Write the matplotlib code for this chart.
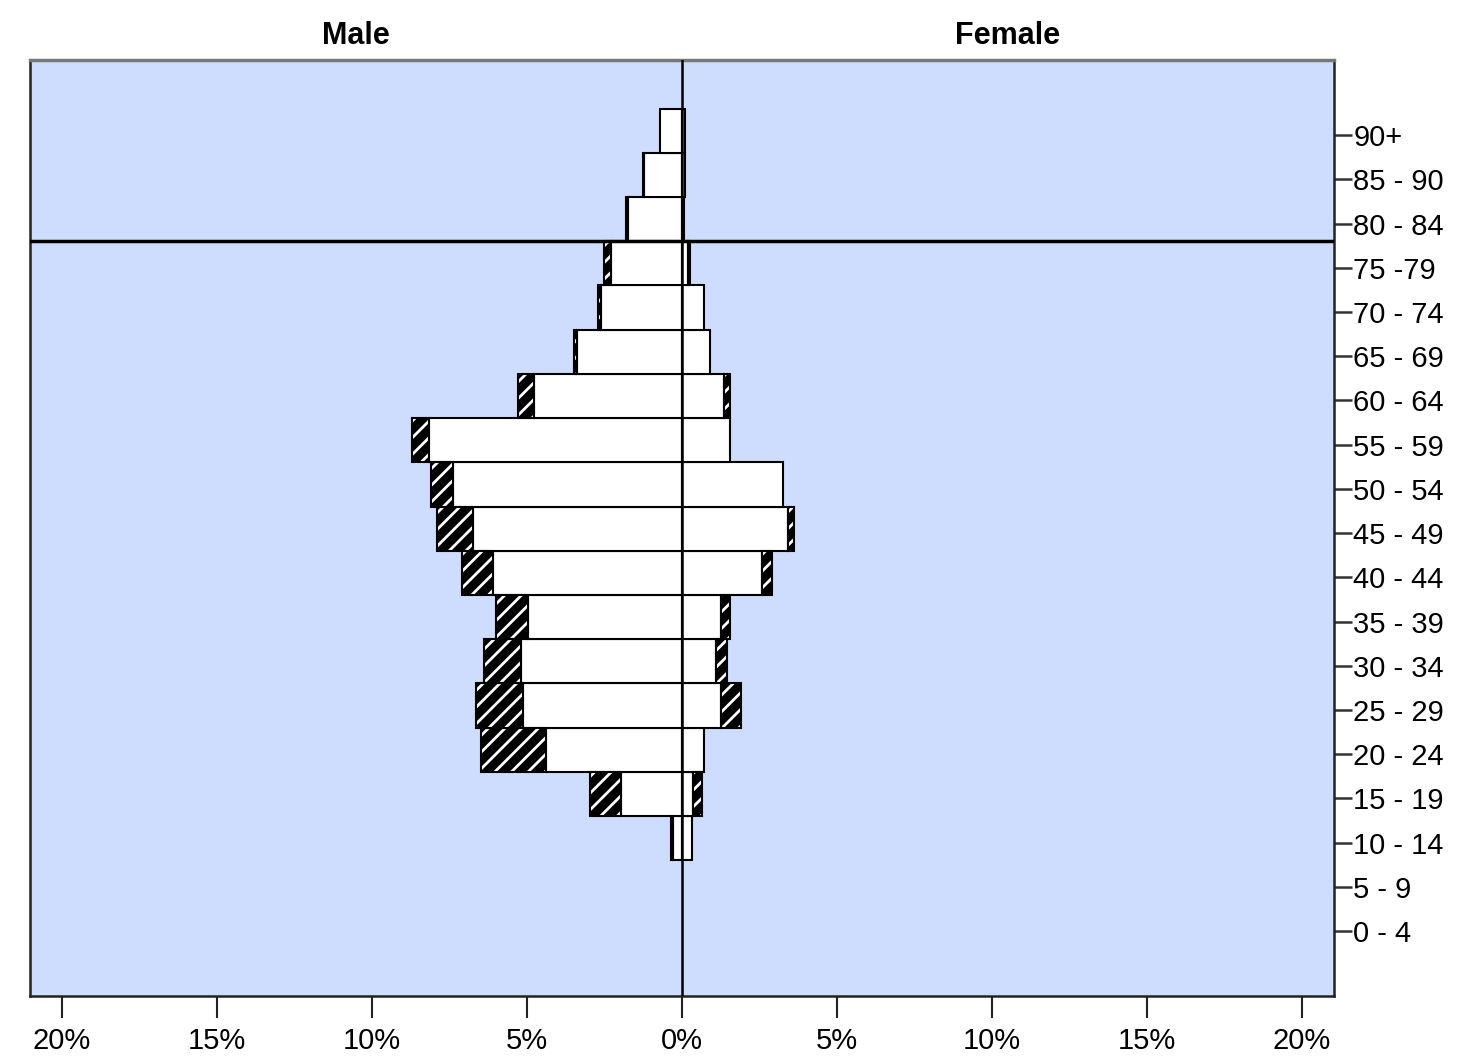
import numpy as np
import matplotlib
matplotlib.use('Agg')
from matplotlib import pyplot as plt

# Age groups, bottom to top
age_groups = ['0 - 4', '5 - 9', '10 - 14', '15 - 19', '20 - 24', '25 - 29', '30 - 34',
              '35 - 39', '40 - 44', '45 - 49', '50 - 54', '55 - 59', '60 - 64',
              '65 - 69', '70 - 74', '75 -79', '80 - 84', '85 - 90', '90+']

# Percentages (white part and hatched extra part)
male_base = [0, 0, 0.30, 1.97, 4.39, 5.13, 5.19, 4.97, 6.10, 6.74, 7.39, 8.16, 4.77,
             3.40, 2.60, 2.29, 1.75, 1.22, 0.71]
male_extra = [0, 0, 0.05, 1.00, 2.09, 1.52, 1.20, 1.03, 1.00, 1.16, 0.71, 0.54, 0.53,
              0.07, 0.10, 0.23, 0.06, 0.04, 0]
female_base = [0, 0, 0.32, 0.35, 0.71, 1.26, 1.10, 1.26, 2.58, 3.42, 3.26, 1.55, 1.35,
               0.90, 0.71, 0.20, 0.07, 0.10, 0.10]
female_extra = [0, 0, 0, 0.30, 0, 0.64, 0.35, 0.29, 0.32, 0.19, 0, 0, 0.20,
                0, 0, 0.07, 0, 0, 0]

x_ticks = [-20, -15, -10, -5, 0, 5, 10, 15, 20]
x_tick_labels = ['20%', '15%', '10%', '5%', '0%', '5%', '10%', '15%', '20%']
cut_age = 15.5  # horizontal line between 75-79 and 80-84

plt.rcParams['font.family'] = ['Liberation Sans', 'DejaVu Sans']
plt.rcParams['hatch.linewidth'] = 2.0

fig = plt.figure(figsize=(14.58, 10.64), dpi=100)
ax = fig.add_axes([30 / 1458, 68 / 1064, 1304 / 1458, 936 / 1064])
ax.set_facecolor('#cedcfd')

pos = np.arange(len(age_groups))
bar_y = pos + 0.1
mb = np.array(male_base)
me = np.array(male_extra)
fb = np.array(female_base)
fe = np.array(female_extra)

# white bars (skip empty groups)
for vals in [-mb, fb]:
    k = vals != 0
    ax.barh(bar_y[k], vals[k], height=1.0, color='white', edgecolor='black',
            linewidth=1.5, zorder=2)

# hatched extra part: black fill with white stripes, then black outline
for left, width in [(-mb, -me), (fb, fe)]:
    k = width != 0
    ax.barh(bar_y[k], width[k], left=left[k], height=1.0, color='black',
            edgecolor='white', hatch='//', linewidth=0, zorder=2)
    ax.barh(bar_y[k], width[k], left=left[k], height=1.0, fill=False,
            edgecolor='black', linewidth=1.5, zorder=3)

ax.axvline(0, color='black', linewidth=1.8, zorder=4)
ax.axhline(cut_age + 0.1, color='black', linewidth=2.5, zorder=4)

ax.set_xlim(-21.03, 21.03)
ax.set_ylim(-1.47, 19.7)

ax.set_xticks(x_ticks)
ax.set_xticklabels(x_tick_labels, fontsize=21)
ax.set_yticks(pos)
ax.set_yticklabels(age_groups, fontsize=21)
ax.yaxis.tick_right()
ax.tick_params(axis='x', direction='out', length=16, width=1.5, pad=6, colors='#222222',
               labelcolor='black')
ax.tick_params(axis='y', direction='out', length=13, width=1.8, pad=1, colors='#333333',
               labelcolor='black')

for s in ax.spines.values():
    s.set_color('#222222')
    s.set_linewidth(1.8)
ax.spines['top'].set_color('#777777')
ax.spines['top'].set_linewidth(2.5)

fig.text(356 / 1458, 1 - 36 / 1064, 'Male', ha='center', va='center', fontsize=22,
         fontweight='bold')
fig.text(1008 / 1458, 1 - 36 / 1064, 'Female', ha='center', va='center', fontsize=22,
         fontweight='bold')

fig.savefig('out.png', dpi=100)
